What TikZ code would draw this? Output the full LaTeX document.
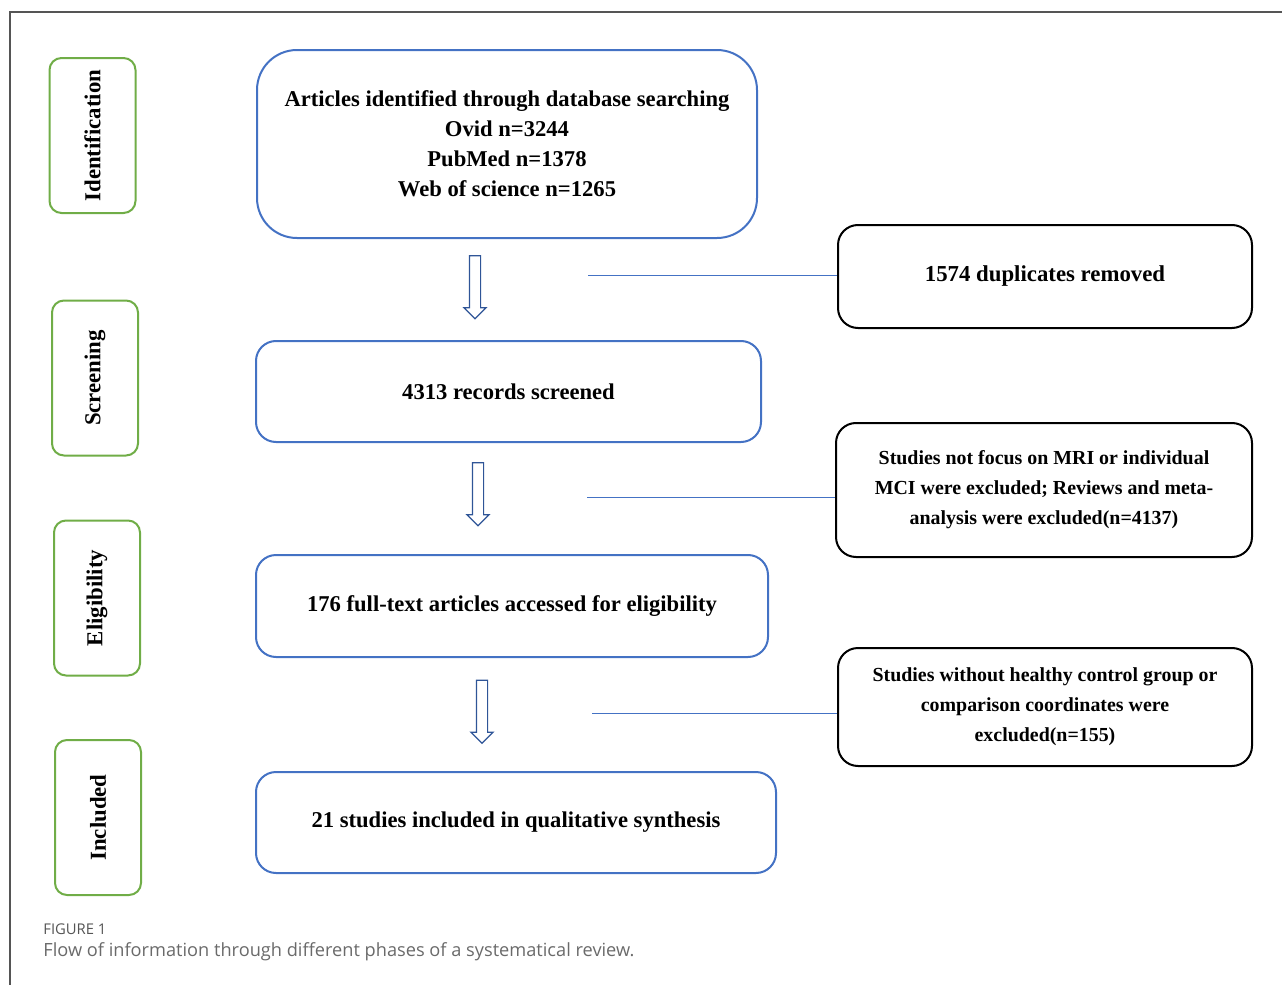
\documentclass[tikz,border=0pt]{standalone}
\usepackage{fontspec}
\setmainfont{Liberation Serif}
\newfontfamily\capfont{Open Sans}
\usetikzlibrary{shapes.arrows}
\definecolor{boxblue}{HTML}{4472C4}
\definecolor{arrowblue}{HTML}{2F5597}
\definecolor{phasegreen}{HTML}{70AD47}
\definecolor{framegray}{HTML}{555555}
\definecolor{capgray}{HTML}{6A6A6A}
\tikzset{
  phase/.style={draw=phasegreen, line width=1pt, rounded corners=6pt, rotate=90,
    minimum width=77.5pt, minimum height=43pt, inner sep=0pt,
    font=\fontsize{11.4}{13}\selectfont\bfseries},
  mainbox/.style={draw=boxblue, line width=1pt, rounded corners=10pt, align=center,
    inner sep=0pt, font=\fontsize{11.3}{15}\selectfont\bfseries},
  sidebox/.style={draw=black, line width=1pt, rounded corners=10pt, align=center,
    inner sep=0pt, font=\fontsize{9.95}{15}\selectfont\bfseries},
  downarrow/.style={single arrow, draw=arrowblue, line width=0.6pt, rotate=-90,
    minimum height=31.5pt, text height=5pt, text depth=0pt, inner sep=0pt,
    single arrow head extend=2.75pt, single arrow tip angle=90},
  link/.style={draw=boxblue, line width=0.65pt}
}
\begin{document}
\begin{tikzpicture}[x=0.5pt, y=-0.5pt]
  \useasboundingbox (0,0) rectangle (1282,985);
  %%%%% FRAME %%%%%
  \draw[framegray, line width=1pt] (10,985) -- (10,12) -- (1282,12);

  %%%%% PHASES %%%%%
  \node[phase] (ident) at (92.5,135.5) {Identification};
  \node[phase] (screen) at (95,378) {Screening};
  \node[phase] (elig) at (97,598) {Eligibility};
  \node[phase] (incl) at (98,817.5) {Included};

  %%%%% MAIN FLOW %%%%%
  \node[mainbox, rounded corners=20pt, minimum width=250pt, minimum height=94pt] (articles) at (507,144)
    {Articles identified through database searching\\Ovid n=3244\\PubMed n=1378\\Web of science n=1265};
  \node[mainbox, minimum width=252.5pt, minimum height=50.5pt] (records) at (508.5,391.5)
    {4313 records screened};
  \node[mainbox, minimum width=256pt, minimum height=51pt] (fulltext) at (512,606)
    {176 full-text articles accessed for eligibility};
  \node[mainbox, minimum width=260pt, minimum height=50.5pt] (studies) at (516,822.5)
    {21 studies included in qualitative synthesis};

  \node[downarrow] (arr1) at (475,284.5) {};
  \node[downarrow] (arr2) at (478,491.5) {};
  \node[downarrow] (arr3) at (482,709) {};

  %%%%% EXCLUSIONS %%%%%
  \node[sidebox, minimum width=207pt, minimum height=51.5pt, font=\fontsize{11.4}{15}\selectfont\bfseries] (dup) at (1045,276.5)
    {1574 duplicates removed};
  \node[sidebox, minimum width=208pt, minimum height=67pt] (excla) at (1044,490)
    {Studies not focus on MRI or individual\\MCI were excluded; Reviews and meta-\\analysis were excluded(n=4137)};
  \node[sidebox, minimum width=207pt, minimum height=59pt] (exclb) at (1045,707)
    {Studies without healthy control group or\\comparison coordinates were\\excluded(n=155)};

  \coordinate (l1) at (588,275.5);
  \coordinate (l2) at (587,497.5);
  \coordinate (l3) at (592,713.5);
  \draw[link] (l1) -- (l1 -| dup.west);
  \draw[link] (l2) -- (l2 -| excla.west);
  \draw[link] (l3) -- (l3 -| exclb.west);

  %%%%% CAPTION %%%%%
  \node[anchor=west, inner sep=0pt, text=framegray, font=\capfont\fontsize{7.4}{8}\selectfont] (figlabel) at (43,929) {FIGURE 1};
  \node[anchor=west, inner sep=0pt, text=capgray, font=\capfont\fontsize{9.1}{10}\selectfont] (figcaption) at (43,952)
    {Flow of information through different phases of a systematical review.};
\end{tikzpicture}
\end{document}
